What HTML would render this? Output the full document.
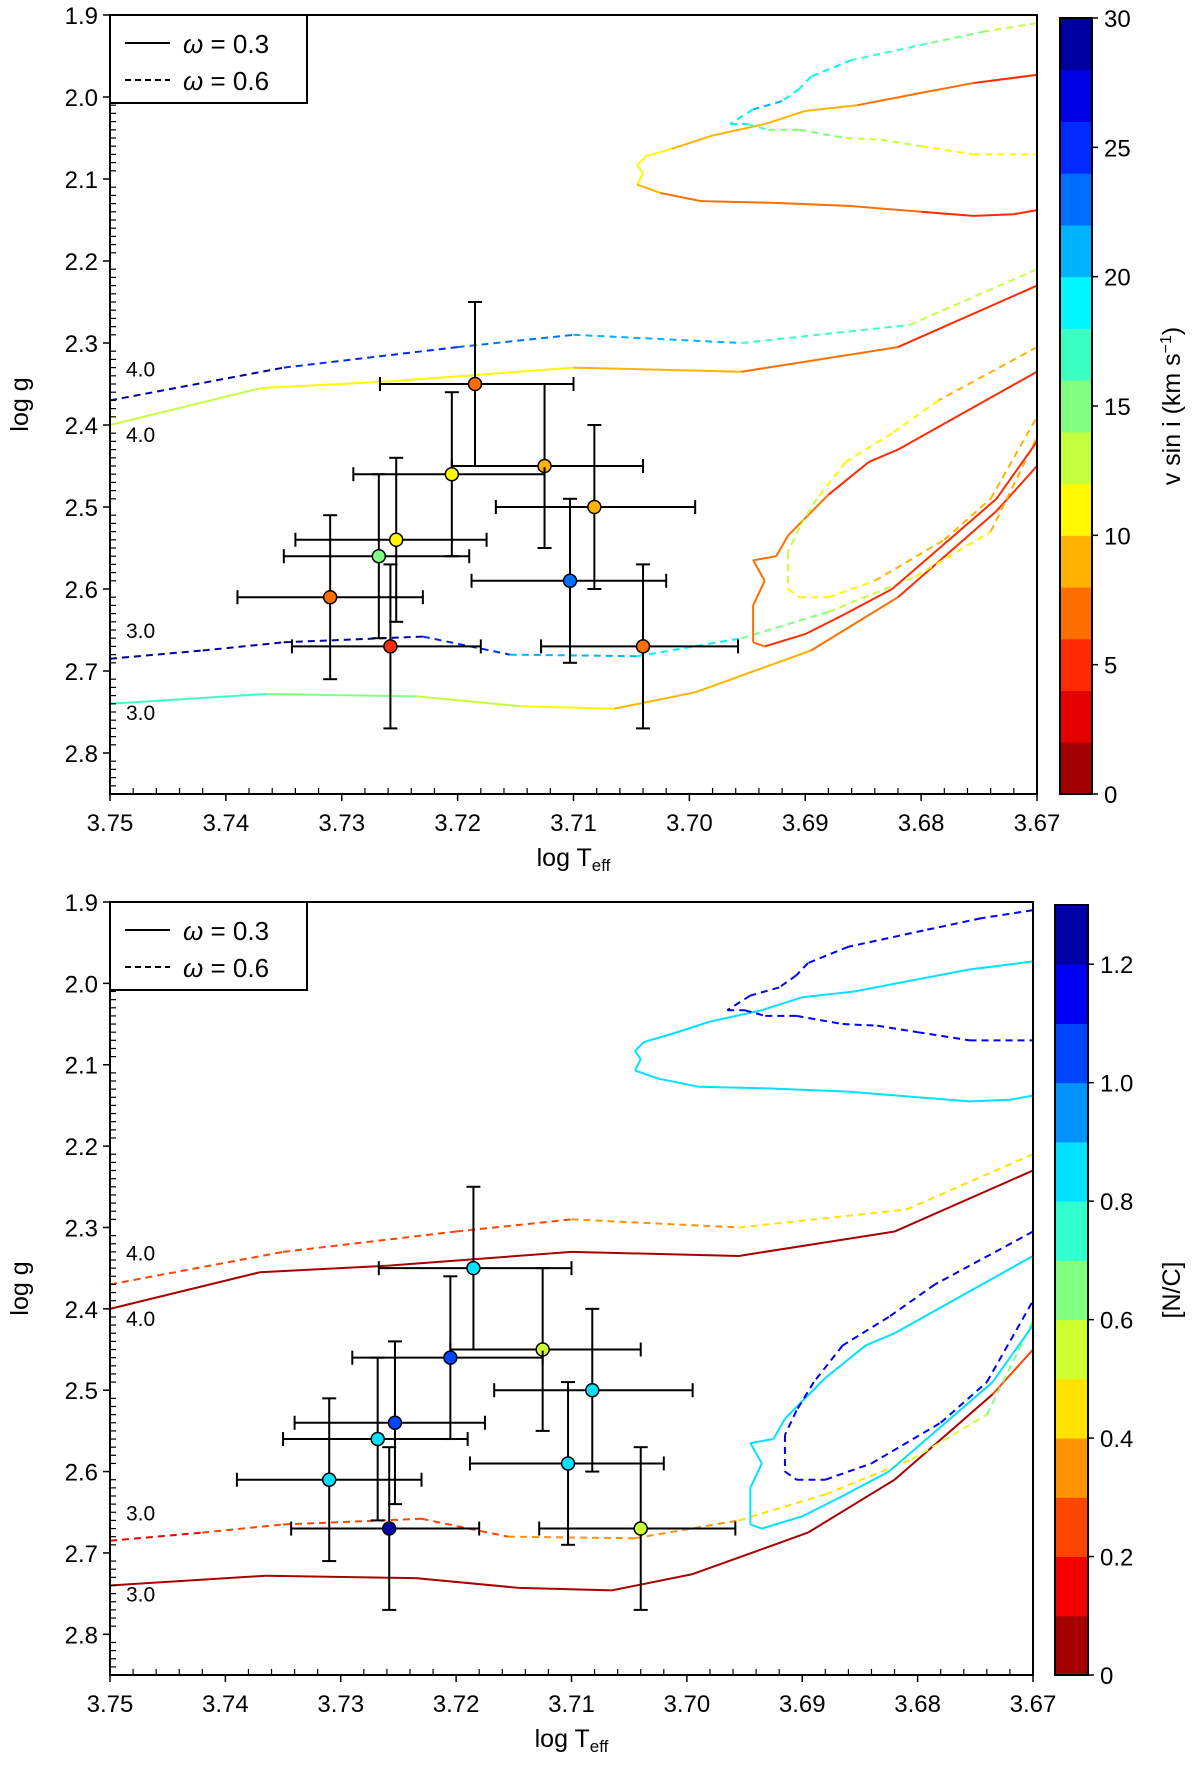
<!DOCTYPE html>
<html><head><meta charset="utf-8"><style>
html,body{margin:0;padding:0;background:#fff;}
svg{display:block;font-family:"Liberation Sans","DejaVu Sans",sans-serif;}
</style></head><body>
<svg id="fig" width="1200" height="1769" viewBox="0 0 1200 1769" xmlns="http://www.w3.org/2000/svg"></svg>
<script>
// ---- data ----
const starT = [3.7185,3.7125,3.7205,3.7082,3.7253,3.7268,3.7103,3.7310,3.7258,3.7040];
const starG = [2.35,2.45,2.46,2.50,2.54,2.56,2.59,2.61,2.67,2.67];
const starTlo = [3.7267,3.7205,3.7290,3.7167,3.7340,3.7350,3.7188,3.7390,3.7343,3.7128];
const starThi = [3.7100,3.7040,3.7125,3.6995,3.7175,3.7190,3.7020,3.7230,3.7180,3.6958];
const starGerr = [0.10,0.10,0.10,0.10,0.10,0.10,0.10,0.10,0.10,0.10];
const starVsini = [7,9,11,9,11,15.5,23,7,5,7];
const starNC = [0.8,0.55,1.0,0.8,1.0,0.85,0.8,0.85,1.28,0.55];

const trkA_T=[3.75,3.737,3.726,3.710,3.6955,3.682,3.67];
const trkA_G=[2.40,2.355,2.347,2.33,2.335,2.305,2.23];
const trkA_V=[13,12,11,9,7,6,5];
const trkA_N=[0.05,0.05,0.05,0.05,0.05,0.05,0.05];

const trkB_T=[3.75,3.735,3.72,3.71,3.6955,3.681,3.67];
const trkB_G=[2.37,2.33,2.305,2.29,2.30,2.278,2.21];
const trkB_V=[29,27,24,22,19,14,11];
const trkB_N=[0.25,0.25,0.25,0.25,0.35,0.45,0.5];

const trkC_T=[3.75,3.7365,3.7235,3.7145,3.7065,3.6995,3.6895,3.682,3.6735,3.67];
const trkC_G=[2.74,2.728,2.731,2.743,2.746,2.726,2.675,2.61,2.505,2.45];
const trkC_V=[17,15,13,12,10,9,7,6,5,5];
const trkC_N=[0.05,0.05,0.05,0.05,0.05,0.05,0.05,0.05,0.1,0.3];

const trkD_T=[3.75,3.742,3.735,3.723,3.7155,3.7045,3.6955,3.688,3.6805,3.674,3.67];
const trkD_G=[2.685,2.675,2.665,2.658,2.68,2.682,2.66,2.628,2.585,2.53,2.415];
const trkD_V=[29,29,29,28,22,19,17,14,12,10,9];
const trkD_N=[0.12,0.2,0.25,0.25,0.3,0.3,0.35,0.45,0.5,0.6,0.65];

const trkE_T=[3.67,3.6735,3.6825,3.6865,3.690,3.6935,3.6945,3.6945,3.6935,3.6945,3.6925,3.6915,3.688,3.6845,3.682,3.67];
const trkE_G=[2.42,2.49,2.60,2.63,2.655,2.67,2.665,2.62,2.59,2.565,2.56,2.535,2.485,2.445,2.43,2.335];
const trkE_V=[5,5,5,5,5,6,7,7,7,7,7,7,6,5,5,5];
const trkE_N=[0.82,0.82,0.82,0.82,0.82,0.82,0.82,0.82,0.82,0.82,0.82,0.82,0.82,0.82,0.82,0.82];

const trkF_T=[3.67,3.6785,3.6825,3.6865,3.689,3.6905,3.6915,3.6915,3.6905,3.688,3.684,3.678,3.674,3.67];
const trkF_G=[2.305,2.37,2.41,2.445,2.49,2.525,2.555,2.60,2.61,2.61,2.59,2.54,2.49,2.39];
const trkF_V=[9,10,10,11,12,12,12,12,11,11,10,9,8,8];
const trkF_N=[1.1,1.1,1.1,1.1,1.1,1.1,1.1,1.1,1.1,1.1,1.1,1.1,1.1,1.1];

const trkG_T=[3.67,3.6755,3.680,3.6855,3.690,3.6935,3.698,3.7015,3.7037,3.7045,3.704,3.7045,3.7035,3.7025,3.699,3.693,3.686,3.680,3.6755,3.672,3.67];
const trkG_G=[1.973,1.983,1.995,2.01,2.017,2.033,2.047,2.063,2.072,2.083,2.093,2.107,2.112,2.117,2.127,2.129,2.133,2.14,2.145,2.143,2.138];
const trkG_V=[5,6,7,8,8,9,9,10,10,10,10,10,9,8,7,7,6,6,5,5,5];
const trkG_N=[0.82,0.82,0.82,0.82,0.82,0.82,0.82,0.82,0.82,0.82,0.82,0.82,0.82,0.82,0.82,0.82,0.82,0.82,0.82,0.82,0.82];

const trkH_T=[3.67,3.6745,3.6795,3.686,3.6895,3.6905,3.692,3.6945,3.6965,3.695,3.6932,3.6905,3.6865,3.6835,3.680,3.6755,3.67];
const trkH_G=[1.91,1.92,1.935,1.955,1.975,1.99,2.005,2.015,2.033,2.033,2.04,2.04,2.05,2.052,2.06,2.07,2.07];
const trkH_V=[11,13,16,18,19,19,20,20,19,17,16,15,14,13,12,11,11];
const trkH_N=[1.1,1.1,1.1,1.1,1.1,1.1,1.1,1.1,1.1,1.1,1.1,1.1,1.1,1.1,1.1,1.1,1.1];

const xTicks=[3.75,3.74,3.73,3.72,3.71,3.70,3.69,3.68,3.67];
const yTicks=[1.9,2.0,2.1,2.2,2.3,2.4,2.5,2.6,2.7,2.8];
const cbTicksTop=[0,5,10,15,20,25,30];
const cbTicksBot=[0,0.2,0.4,0.6,0.8,1.0,1.2];
const cbLabelsBot=["0","0.2","0.4","0.6","0.8","1.0","1.2"];

// ---- helpers ----
const NS="http://www.w3.org/2000/svg";
const svg=document.getElementById('fig');
function mk(tag,attrs,parent){const e=document.createElementNS(NS,tag);for(const k in attrs)e.setAttribute(k,attrs[k]);(parent||svg).appendChild(e);return e;}
function jet(t){t=1-Math.max(0,Math.min(1,t));
  const r=Math.max(0,Math.min(1,Math.min(4*t-1.5,-4*t+4.5)));
  const g=Math.max(0,Math.min(1,Math.min(4*t-0.5,-4*t+3.5)));
  const b=Math.max(0,Math.min(1,Math.min(4*t+0.5,-4*t+2.5)));
  return `rgb(${Math.round(r*255)},${Math.round(g*255)},${Math.round(b*255)})`;}
function qjet(v,vmax,n){let k=Math.min(n-1,Math.floor(v/vmax*n));return jet((k+0.5)/n);}

function panel(cfg){
  const {L,R,T,B,cbL,cbR,cbT,vmax,nb,key,ticks,labels,cblabel,pid}=cfg;
  const X=t=>L+(3.75-t)/0.08*(R-L);
  const Y=g=>T+(g-1.9)/0.95*(B-T);
  const col=v=>qjet(v,vmax,nb);
  const tracks=[[trkA_T,trkA_G,trkA_V,trkA_N,false],[trkB_T,trkB_G,trkB_V,trkB_N,true],[trkC_T,trkC_G,trkC_V,trkC_N,false],[trkD_T,trkD_G,trkD_V,trkD_N,true],[trkE_T,trkE_G,trkE_V,trkE_N,false],[trkF_T,trkF_G,trkF_V,trkF_N,true],[trkG_T,trkG_G,trkG_V,trkG_N,false],[trkH_T,trkH_G,trkH_V,trkH_N,true]];
  tracks.forEach((tr,ti)=>{
    const g=mk('g',{});
    
    
    const vals=key==='v'?tr[2]:tr[3];
    for(let i=0;i<tr[0].length-1;i++){
      mk('line',{x1:X(tr[0][i]),y1:Y(tr[1][i]),x2:X(tr[0][i+1]),y2:Y(tr[1][i+1]),stroke:col((vals[i]+vals[i+1])/2),'stroke-width':2,'stroke-dasharray':tr[4]?'7,5':'none','stroke-linecap':'butt'},g);
    }
  });
  for(let i=0;i<starT.length;i++){
    const g=mk('g',{});
    
    
    const x=X(starT[i]),y=Y(starG[i]);
    mk('line',{x1:X(starTlo[i]),x2:X(starThi[i]),y1:y,y2:y,stroke:'#000','stroke-width':2},g);
    mk('line',{x1:x,x2:x,y1:Y(starG[i]-starGerr[i]),y2:Y(starG[i]+starGerr[i]),stroke:'#000','stroke-width':2},g);
    [[X(starTlo[i]),y,'v'],[X(starThi[i]),y,'v'],[x,Y(starG[i]-starGerr[i]),'h'],[x,Y(starG[i]+starGerr[i]),'h']].forEach(c=>{
      if(c[2]==='v')mk('line',{x1:c[0],x2:c[0],y1:c[1]-7,y2:c[1]+7,stroke:'#000','stroke-width':2},g);
      else mk('line',{x1:c[0]-7,x2:c[0]+7,y1:c[1],y2:c[1],stroke:'#000','stroke-width':2},g);
    });
    mk('circle',{cx:x,cy:y,r:6.5,fill:col(key==='v'?starVsini[i]:starNC[i]),stroke:'#000','stroke-width':1.5},g);
  }
  [[2.331,'4.0'],[2.411,'4.0'],[2.650,'3.0'],[2.750,'3.0']].forEach((l,i)=>{
    const t=mk('text',{x:L+16,y:Y(l[0])+8,'font-size':21},svg);t.textContent=l[1];
    
  });
  const fr=mk('rect',{x:L,y:T,width:R-L,height:B-T,fill:'none',stroke:'#000','stroke-width':2});
  
  const xa=mk('g',{});
  for(let k=0;k<=40;k++){const t=3.75-k*0.002;const x=X(t);
    if(k%5===0)mk('line',{x1:x,x2:x,y1:B,y2:B+7,stroke:'#000','stroke-width':1.5},xa);
    else mk('line',{x1:x,x2:x,y1:B,y2:B-6,stroke:'#000','stroke-width':1.2},xa);}
  xTicks.forEach(t=>{const e=mk('text',{x:X(t),y:B+37,'font-size':24,'text-anchor':'middle'},xa);e.textContent=t.toFixed(2);});
  const xl=mk('text',{x:(L+R)/2,y:B+72,'font-size':25,'text-anchor':'middle'});
  
  xl.innerHTML='log T<tspan font-size="17" dy="5">eff</tspan>';
  const ya=mk('g',{});
  for(let k=0;k<=95;k++){const g=1.9+k*0.01;const y=Y(g);
    if(k%10===0)mk('line',{x1:L-7,x2:L,y1:y,y2:y,stroke:'#000','stroke-width':1.5},ya);
    else mk('line',{x1:L,x2:L+6,y1:y,y2:y,stroke:'#000','stroke-width':1.2},ya);}
  yTicks.forEach(g=>{const e=mk('text',{x:L-12,y:Y(g)+9,'font-size':24,'text-anchor':'end'},ya);e.textContent=g.toFixed(1);});
  const yl=mk('text',{x:0,y:0,'font-size':25,'text-anchor':'middle',transform:`translate(28,${Y(2.375)}) rotate(-90)`});
  
  yl.textContent='log g';
  const lg=mk('g',{});
  mk('rect',{x:L,y:T,width:197,height:88,fill:'#fff',stroke:'#000','stroke-width':2},lg);
  mk('line',{x1:L+15,x2:L+60,y1:T+28,y2:T+28,stroke:'#000','stroke-width':2},lg);
  mk('line',{x1:L+15,x2:L+60,y1:T+65,y2:T+65,stroke:'#000','stroke-width':2,'stroke-dasharray':'6,4'},lg);
  let e=mk('text',{x:L+73,y:T+38,'font-size':26},lg);e.innerHTML='<tspan font-style="italic">ω</tspan> = 0.3';
  e=mk('text',{x:L+73,y:T+75,'font-size':26},lg);e.innerHTML='<tspan font-style="italic">ω</tspan> = 0.6';
  const cb=mk('g',{});
  const h=(B-cbT)/nb;
  for(let k=0;k<nb;k++)mk('rect',{x:cbL,y:B-(k+1)*h,width:cbR-cbL,height:h+0.5,fill:jet((k+0.5)/nb)},cb);
  mk('rect',{x:cbL,y:cbT,width:cbR-cbL,height:B-cbT,fill:'none',stroke:'#000','stroke-width':2},cb);
  ticks.forEach((v,i)=>{const y=B-v/vmax*(B-cbT);
    mk('line',{x1:cbR,x2:cbR+6,y1:y,y2:y,stroke:'#000','stroke-width':1.5},cb);
    const t=mk('text',{x:cbR+12,y:y+9,'font-size':24},cb);t.textContent=labels[i];});
  const cl=mk('text',{x:0,y:0,'font-size':25,'text-anchor':'middle',transform:`translate(1180,${(cbT+B)/2}) rotate(-90)`});
  
  cl.innerHTML=cblabel;
}
panel({pid:'top',L:110,R:1037,T:15,B:794,cbL:1060,cbR:1092,cbT:18,vmax:30,nb:15,key:'v',ticks:cbTicksTop,labels:cbTicksTop.map(String),cblabel:'v sin i  (km s<tspan font-size="16" dy="-9">−1</tspan><tspan dy="9">)</tspan>'});
panel({pid:'bottom',L:110,R:1033,T:902,B:1675,cbL:1055,cbR:1088,cbT:905,vmax:1.3,nb:13,key:'n',ticks:cbTicksBot,labels:cbLabelsBot,cblabel:'[N/C]'});
</script>
</body></html>
